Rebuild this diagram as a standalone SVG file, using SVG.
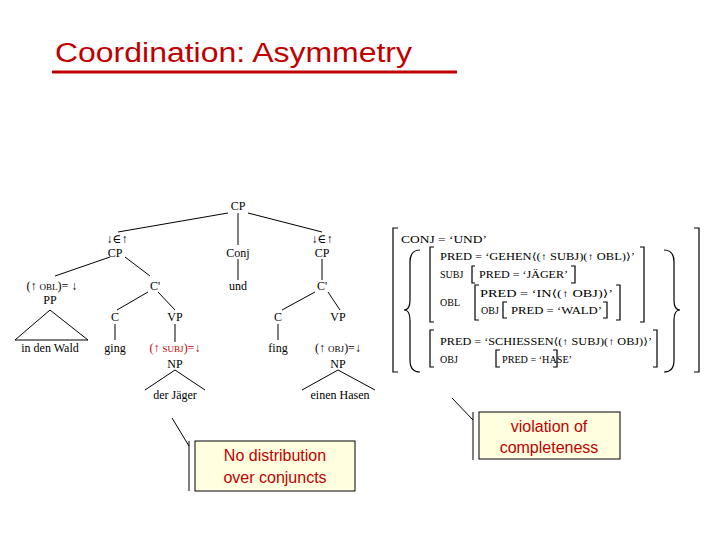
<svg xmlns="http://www.w3.org/2000/svg" width="720" height="540" viewBox="0 0 720 540">
<style>
.t{font-family:"Liberation Serif","DejaVu Serif",serif;font-size:12px;fill:#000;text-anchor:middle}
.r{fill:#c00000}
.f{font-family:"Liberation Serif","DejaVu Serif",serif;font-size:10px;fill:#000}
.sc{font-size:9px}
.l{stroke:#000;stroke-width:1;fill:none}
.b{stroke:#000;stroke-width:1.2;fill:none}
.box{fill:#ffffe0;stroke:#000;stroke-width:1}
.c{font-family:"Liberation Sans",Arial,sans-serif;font-size:16px;fill:#c00000;text-anchor:middle}
</style>
<rect width="720" height="540" fill="#fff"/>
<g id="title">
<text x="55" y="62" font-family="Liberation Sans,Arial,sans-serif" font-size="27" fill="#c00000" textLength="357" lengthAdjust="spacingAndGlyphs">Coordination: Asymmetry</text>
<line x1="52" y1="72" x2="457" y2="72" stroke="#c00000" stroke-width="3"/>
</g>
<g id="connectors">
<path class="l" d="M228 213 L118 232 M238 213 L238 245 M248 213 L322 232
M110 257 L55 276 M125 257 L150 276 M238 259 L238 280 M322 259 L322 280
M50 310 L15 340 L88 340 Z M148 292 L117 310 M158 292 L175 310 M175 324 L175 342
M115 324 L115 340 M175 370 L145 390 M175 370 L205 390
M315 292 L282 310 M328 292 L340 310 M278 324 L278 340 M338 370 L302 390 M338 370 L375 390"/>
<path class="l" stroke-width="0.8" d="M172 418 L189 446 M189 441 L189 491 M452 398 L473 420 M473 412 L473 460"/>
</g>
<g id="tree">
<text class="t" x="238" y="210">CP</text>
<text class="t" x="117" y="243">↓∈↑</text><text class="t" x="115" y="257">CP</text>
<text class="t" x="238" y="257">Conj</text><text class="t" x="238" y="290">und</text>
<text class="t" x="322" y="243">↓∈↑</text><text class="t" x="322" y="257">CP</text>
<text class="t" x="52" y="290">(↑ <tspan class="sc">OBL</tspan>)= ↓</text>
<text class="t" x="50" y="304">PP</text>
<text class="t" x="50" y="352">in den Wald</text>
<text class="t" x="155" y="290">C'</text>
<text class="t" x="115" y="321">C</text><text class="t" x="175" y="321">VP</text>
<text class="t" x="115" y="352">ging</text>
<text class="t r" x="175" y="352">(↑ <tspan class="sc">SUBJ</tspan>)=↓</text>
<text class="t" x="175" y="368">NP</text>
<text class="t" x="175" y="399">der Jäger</text>
<text class="t" x="322" y="290">C'</text>
<text class="t" x="278" y="321">C</text><text class="t" x="338" y="321">VP</text>
<text class="t" x="278" y="352">fing</text>
<text class="t" x="338" y="352">(↑ <tspan class="sc">OBJ</tspan>)=↓</text>
<text class="t" x="338" y="368">NP</text>
<text class="t" x="340" y="399">einen Hasen</text>
</g>
<g id="fstructure">
<path class="b" d="M398 228 H393 V372 H398 M694 228 H699 V372 H694"/>
<path class="b" d="M420 250 Q410 250 410 262 V300 Q410 310 404 310 Q410 310 410 320 V360 Q410 372 420 372"/>
<path class="b" d="M664 250 Q674 250 674 262 V300 Q674 310 680 310 Q674 310 674 320 V360 Q674 372 664 372"/>
<path class="b" d="M434 247 H430 V322 H434 M640 247 H644 V322 H640"/>
<path class="b" d="M475 266 H472 V283 H475 M571 266 H575 V283 H571"/>
<path class="b" d="M479 285 H475 V320 H479 M616 285 H620 V320 H616"/>
<path class="b" d="M507 302 H503 V318 H507 M603 302 H607 V318 H603"/>
<path class="b" d="M434 330 H430 V367 H434 M653 330 H657 V367 H653"/>
<path class="b" d="M500 350 H496 V367 H500 M553 350 H557 V367 H553"/>
<text class="f" x="401" y="243" textLength="86" lengthAdjust="spacingAndGlyphs">CONJ = ‘UND’</text>
<text class="f" x="440" y="260" textLength="195" lengthAdjust="spacingAndGlyphs">PRED = ‘GEHEN⟨(↑ SUBJ)(↑ OBL)⟩’</text>
<text class="f" x="440" y="278">SUBJ</text><text class="f" x="479" y="278" textLength="89" lengthAdjust="spacingAndGlyphs">PRED = ‘JÄGER’</text>
<text class="f" x="440" y="306">OBL</text>
<text class="f" x="480" y="297" textLength="133" lengthAdjust="spacingAndGlyphs">PRED = ‘IN⟨(↑ OBJ)⟩’</text>
<text class="f" x="481" y="314">OBJ</text><text class="f" x="511" y="314" textLength="91" lengthAdjust="spacingAndGlyphs">PRED = ‘WALD’</text>
<text class="f" x="440" y="345" textLength="212" lengthAdjust="spacingAndGlyphs">PRED = ‘SCHIESSEN⟨(↑ SUBJ)(↑ OBJ)⟩’</text>
<text class="f" x="440" y="363">OBJ</text><text class="f" x="502" y="363" textLength="70" lengthAdjust="spacingAndGlyphs">PRED = ‘HASE’</text>
</g>
<g id="callout1">
<rect class="box" x="195" y="441" width="160" height="50"/>
<text class="c" x="275" y="461">No distribution</text>
<text class="c" x="275" y="483">over conjuncts</text>
</g>
<g id="callout2">
<rect class="box" x="479" y="412" width="141" height="47"/>
<text class="c" x="549" y="432">violation of</text>
<text class="c" x="549" y="453">completeness</text>
</g>
</svg>
